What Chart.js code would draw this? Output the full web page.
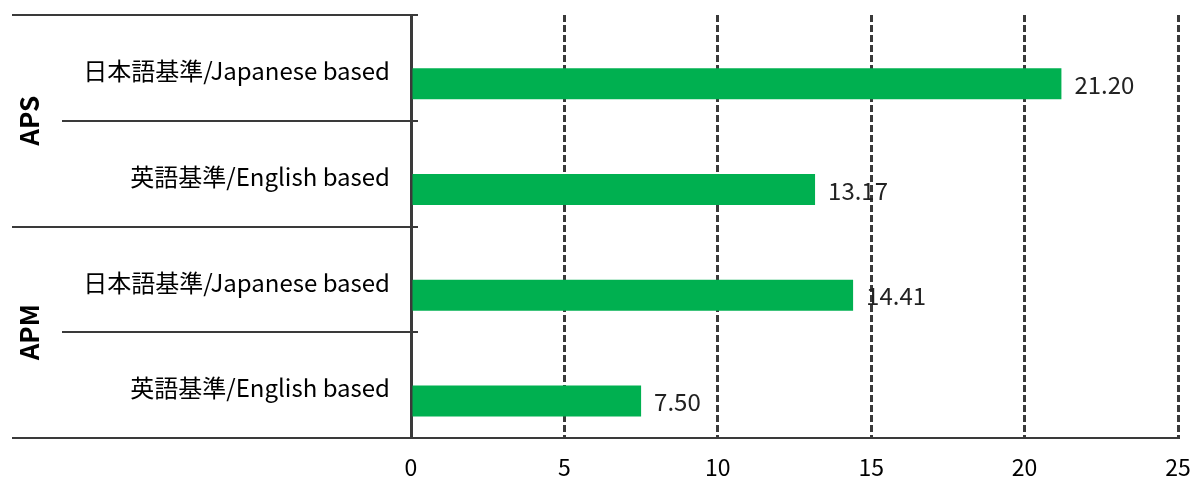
<!DOCTYPE html>
<html><head><meta charset="utf-8">
<script src="https://cdn.jsdelivr.net/npm/chart.js@4"></script>
<style>html,body{margin:0;padding:0;background:#fff}</style>
</head><body>
<canvas id="c" width="1192" height="481"></canvas>
<script>
const groups = ['APS', 'APM'];
const categories = ['日本語基準/Japanese based', '英語基準/English based', '日本語基準/Japanese based', '英語基準/English based'];
const groupOf = [0, 0, 1, 1];
const values = [21.20, 13.17, 14.41, 7.50];
const spacer = [null, null, null, null];
const xMin = 0, xMax = 25, xStep = 5;

const FONT = "'Noto Sans CJK JP', 'Noto Sans', sans-serif";
const LINE = '#3a3a3a';

const overlay = {
  id: 'overlay',
  afterDraw(chart) {
    const ctx = chart.ctx;
    const y = chart.scales.y;
    const area = chart.chartArea;
    const n = categories.length;
    ctx.save();
    ctx.strokeStyle = LINE;
    ctx.lineWidth = 2;
    for (let k = 0; k <= n; k++) {
      const py = Math.round(y.getPixelForValue(k - 0.5));
      const isGroup = (k === 0 || k === n || groupOf[k] !== groupOf[k - 1]);
      const x0 = isGroup ? 12 : 62;
      const x1 = k === n ? area.left : area.left + 7;
      ctx.beginPath();
      ctx.moveTo(x0, py);
      ctx.lineTo(x1, py);
      ctx.stroke();
    }
    // group labels
    ctx.fillStyle = '#000';
    ctx.font = 'bold 26px ' + FONT;
    ctx.textAlign = 'center';
    ctx.textBaseline = 'middle';
    groups.forEach((g, gi) => {
      const idx = groupOf.map((v, i) => v === gi ? i : -1).filter(i => i >= 0);
      const cy = (y.getPixelForValue(idx[0] - 0.5) + y.getPixelForValue(idx[idx.length - 1] + 0.5)) / 2;
      ctx.save();
      ctx.translate(29, cy);
      ctx.rotate(-Math.PI / 2);
      ctx.fillText(g, 0, 0);
      ctx.restore();
    });
    // data labels
    const meta = chart.getDatasetMeta(1);
    ctx.font = '24px ' + FONT;
    ctx.fillStyle = '#222';
    ctx.textAlign = 'left';
    meta.data.forEach((bar, i) => {
      ctx.fillText(values[i].toFixed(2), bar.x + 13, bar.y + 1);
    });
    ctx.restore();
  }
};

new Chart(document.getElementById('c'), {
  type: 'bar',
  data: {
    labels: categories,
    datasets: [
      { label: 'spacer', data: spacer, backgroundColor: 'rgba(0,0,0,0)' },
      { label: 'value', data: values, backgroundColor: '#00B050' }
    ]
  },
  options: {
    indexAxis: 'y',
    responsive: false,
    animation: false,
    devicePixelRatio: 1,
    layout: { padding: { top: 15, right: 14, left: 0, bottom: 0 } },
    datasets: { bar: { categoryPercentage: 0.6, barPercentage: 0.98 } },
    plugins: { legend: { display: false }, tooltip: { enabled: false } },
    scales: {
      x: {
        type: 'linear', min: xMin, max: xMax,
        ticks: { stepSize: xStep, font: { size: 23, family: FONT }, color: '#000', padding: 15 },
        grid: { color: c => (c.tick && c.tick.value === 0) ? 'rgba(0,0,0,0)' : LINE, lineWidth: 3, drawTicks: false },
        border: { display: true, color: LINE, width: 2, dash: [7, 3] },
        afterFit: s => { s.height = 43; s.paddingLeft = 0; s.paddingRight = 0; }
      },
      y: {
        type: 'category',
        grid: { display: false, drawTicks: false },
        border: { display: true, color: LINE, width: 3 },
        ticks: { font: { size: 24, family: FONT }, color: '#000', padding: 21, labelOffset: 3 },
        afterFit: s => { s.width = 411; s.paddingTop = 0; s.paddingBottom = 0; }
      }
    }
  },
  plugins: [overlay]
});
</script>
</body></html>
